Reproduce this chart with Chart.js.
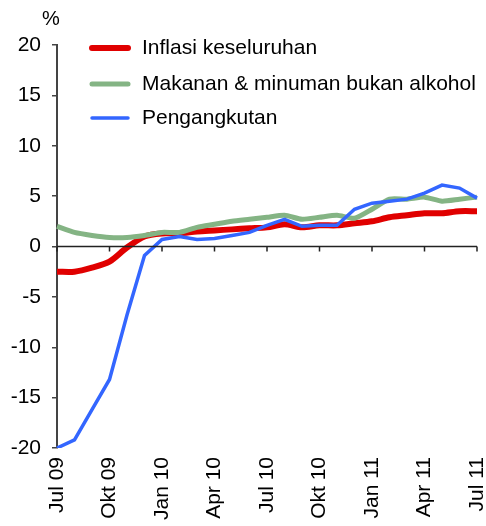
<!DOCTYPE html>
<html>
<head>
<meta charset="utf-8">
<script src="https://cdn.jsdelivr.net/npm/chart.js@4"></script>
<style>
  body { margin: 0; background: #fff; }
  canvas { display: block; }
</style>
</head>
<body>
<canvas id="inflasiChart" width="486" height="526"></canvas>
<script>
const bulan = ['Jul 09', 'Ogo 09', 'Sep 09', 'Okt 09', 'Nov 09', 'Dis 09',
  'Jan 10', 'Feb 10', 'Mac 10', 'Apr 10', 'Mei 10', 'Jun 10',
  'Jul 10', 'Ogo 10', 'Sep 10', 'Okt 10', 'Nov 10', 'Dis 10',
  'Jan 11', 'Feb 11', 'Mac 11', 'Apr 11', 'Mei 11', 'Jun 11', 'Jul 11'];

const inflasiKeseluruhan = [-2.5, -2.5, -2.1, -1.5, -0.1, 1.0, 1.3, 1.3, 1.5, 1.6, 1.7, 1.8,
  1.9, 2.2, 1.9, 2.1, 2.1, 2.3, 2.5, 2.9, 3.1, 3.3, 3.3, 3.5, 3.5];
const makananMinuman = [2.0, 1.4, 1.1, 0.9, 0.9, 1.1, 1.4, 1.4, 1.9, 2.2, 2.5, 2.7,
  2.9, 3.1, 2.7, 2.9, 3.1, 2.8, 3.7, 4.7, 4.7, 4.9, 4.5, 4.7, 4.9];
const pengangkutan = [-20.0, -19.2, -16.2, -13.2, -6.8, -0.9, 0.7, 1.0, 0.7, 0.8, 1.1, 1.4,
  2.1, 2.7, 2.0, 2.1, 2.1, 3.7, 4.3, 4.5, 4.7, 5.3, 6.1, 5.8, 4.8];

const yTicks = [-20, -15, -10, -5, 0, 5, 10, 15, 20];

const FONT = 'Liberation Sans, Arial, sans-serif';

// legenda di dalam kawasan carta + garis sifar + simbol %
const extras = {
  id: 'extras',
  afterDatasetsDraw(chart) {
    const ctx = chart.ctx;
    const x = chart.scales.x, y = chart.scales.y;
    const y0 = y.getPixelForValue(0);
    ctx.save();
    ctx.strokeStyle = '#222';
    ctx.lineWidth = 1.5;
    ctx.beginPath();
    ctx.moveTo(chart.chartArea.left, y0);
    ctx.lineTo(chart.chartArea.right, y0);
    bulan.forEach((b, i) => {
      if (i % 3 !== 0) return;
      const px = x.getPixelForValue(i);
      ctx.moveTo(px, y0);
      ctx.lineTo(px, y0 + 5);
    });
    ctx.stroke();

    ctx.font = '21px ' + FONT;
    ctx.textBaseline = 'middle';
    ctx.fillStyle = '#000';
    ctx.lineCap = 'round';
    const rows = [48, 84, 118];
    chart.data.datasets.forEach((ds, i) => {
      ctx.strokeStyle = ds.borderColor;
      ctx.lineWidth = ds.borderWidth;
      ctx.beginPath();
      ctx.moveTo(92, rows[i]);
      ctx.lineTo(128, rows[i]);
      ctx.stroke();
      ctx.fillText(ds.label, 142, rows[i]);
    });

    ctx.font = '20px ' + FONT;
    ctx.textAlign = 'center';
    ctx.fillText('%', 51, 19);
    ctx.restore();
  }
};

const chartConfig = {
  type: 'line',
  data: {
    labels: bulan,
    datasets: [{
      label: 'Inflasi keseluruhan',
      data: inflasiKeseluruhan,
      borderColor: '#e00000',
      borderWidth: 6,
      tension: 0.3,
      order: 2
    }, {
      label: 'Makanan & minuman bukan alkohol',
      data: makananMinuman,
      borderColor: '#84b484',
      borderWidth: 5,
      tension: 0.2,
      order: 1
    }, {
      label: 'Pengangkutan',
      data: pengangkutan,
      borderColor: '#3366ff',
      borderWidth: 3.5,
      tension: 0,
      order: 0
    }]
  },
  options: {
    responsive: false,
    animation: false,
    elements: { point: { radius: 0 } },
    layout: { padding: { top: 45, right: 9, left: 0, bottom: 0 } },
    plugins: { legend: { display: false }, tooltip: { enabled: false } },
    scales: {
      x: {
        type: 'category',
        offset: false,
        grid: { display: false },
        border: { display: false },
        ticks: {
          autoSkip: false,
          minRotation: 90,
          maxRotation: 90,
          padding: 1,
          color: '#000',
          font: { family: FONT, size: 21 },
          callback: (v, i) => (i % 3 === 0 ? bulan[i] : null)
        },
        afterFit(scale) {
          scale.height = 78;
          scale.paddingLeft = 0;
          scale.paddingRight = 0;
        }
      },
      y: {
        min: -20,
        max: 20,
        afterBuildTicks(scale) {
          scale.ticks = yTicks.map(v => ({ value: v }));
        },
        grid: { drawOnChartArea: false, drawTicks: true, tickLength: 5, color: '#444', lineWidth: 1.5 },
        border: { display: true, color: '#444', width: 2 },
        ticks: {
          padding: 11,
          color: '#000',
          font: { family: FONT, size: 21 }
        },
        afterFit(scale) {
          scale.width = 57;
        }
      }
    }
  },
  plugins: [extras]
};

const inflasiChart = new Chart(
  document.getElementById('inflasiChart'),
  chartConfig
);
</script>
</body>
</html>
